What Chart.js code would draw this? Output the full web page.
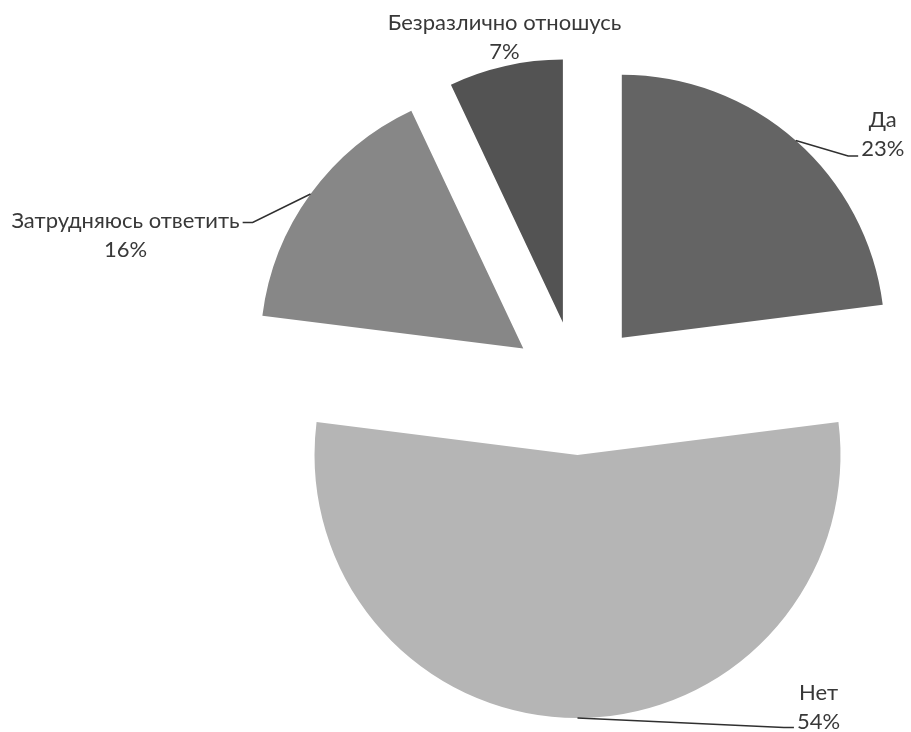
<!DOCTYPE html>
<html>
<head>
<meta charset="utf-8">
<script src="https://cdn.jsdelivr.net/npm/chart.js@4"></script>
<style>
  html, body { margin: 0; background: #fff; }
  #wrap { width: 911px; height: 732px; position: relative; }
</style>
</head>
<body>
<div id="wrap"><canvas id="pieChart"></canvas></div>
<script>
const categories = ['Да', 'Нет', 'Затрудняюсь ответить', 'Безразлично отношусь'];
const shares = [23, 54, 16, 7];
const sliceColors = ['#646464', '#b5b5b5', '#878787', '#535353'];

const EXPLODE = 67;
const FONT_SIZE = 22;
const LINE_H = 29;
const FONT = `${FONT_SIZE}px Lato, "Noto Sans", sans-serif`;

// label block centre relative to where the slice bisector meets the arc
const LABEL_LAYOUT = [
  { dx: 87, dy: -6, leader: 1, ldy: 7 },
  { dx: 241, dy: -11, leader: 1, ldy: 6 },
  { dx: -185, dy: 41, leader: 0, ldy: 2 },
  { dx: -1, dy: -29, leader: null },
];

// draw the slices pulled out along their bisector
const explodePlugin = {
  id: 'explode',
  beforeDatasetDraw(chart, args) {
    const ctx = chart.ctx;
    args.meta.data.forEach(arc => {
      const mid = (arc.startAngle + arc.endAngle) / 2;
      ctx.save();
      ctx.translate(Math.cos(mid) * EXPLODE, Math.sin(mid) * EXPLODE);
      arc.draw(ctx, chart.chartArea);
      ctx.restore();
    });
    return false;
  },
};

const labelPlugin = {
  id: 'sliceLabels',
  afterDraw(chart) {
    const ctx = chart.ctx;
    const arcs = chart.getDatasetMeta(0).data;
    ctx.save();
    ctx.font = FONT;
    ctx.fillStyle = '#383838';
    ctx.strokeStyle = '#303030';
    ctx.lineWidth = 1.5;
    ctx.textAlign = 'center';
    ctx.textBaseline = 'middle';
    arcs.forEach((arc, i) => {
      const mid = (arc.startAngle + arc.endAngle) / 2;
      const ax = arc.x + Math.cos(mid) * (arc.outerRadius + EXPLODE);
      const ay = arc.y + Math.sin(mid) * (arc.outerRadius + EXPLODE);
      const p = LABEL_LAYOUT[i];
      const cx = ax + p.dx, cy = ay + p.dy;
      const lines = [categories[i], shares[i] + '%'];
      lines.forEach((t, k) => ctx.fillText(t, cx, cy + (k - 0.5) * LINE_H));
      if (p.leader !== null) {
        const k = p.leader;
        const w = ctx.measureText(lines[k]).width;
        const ly = cy + (k - 0.5) * LINE_H + p.ldy;
        const side = cx > ax ? -1 : 1;
        const ex = cx + side * (w / 2 + 3);
        ctx.beginPath();
        ctx.moveTo(ax, ay);
        ctx.lineTo(ex + side * 10, ly);
        ctx.lineTo(ex, ly);
        ctx.stroke();
      }
    });
    ctx.restore();
  },
};

new Chart(document.getElementById('pieChart'), {
  type: 'pie',
  data: {
    labels: categories,
    datasets: [{
      data: shares,
      backgroundColor: sliceColors,
      borderWidth: 0,
      radius: 263,
      clip: false,
    }],
  },
  options: {
    responsive: true,
    maintainAspectRatio: false,
    animation: false,
    layout: { padding: { left: 244, top: 44, right: 0, bottom: 0 } },
    plugins: {
      legend: { display: false },
      tooltip: { enabled: false },
    },
  },
  plugins: [explodePlugin, labelPlugin],
});
</script>
</body>
</html>
